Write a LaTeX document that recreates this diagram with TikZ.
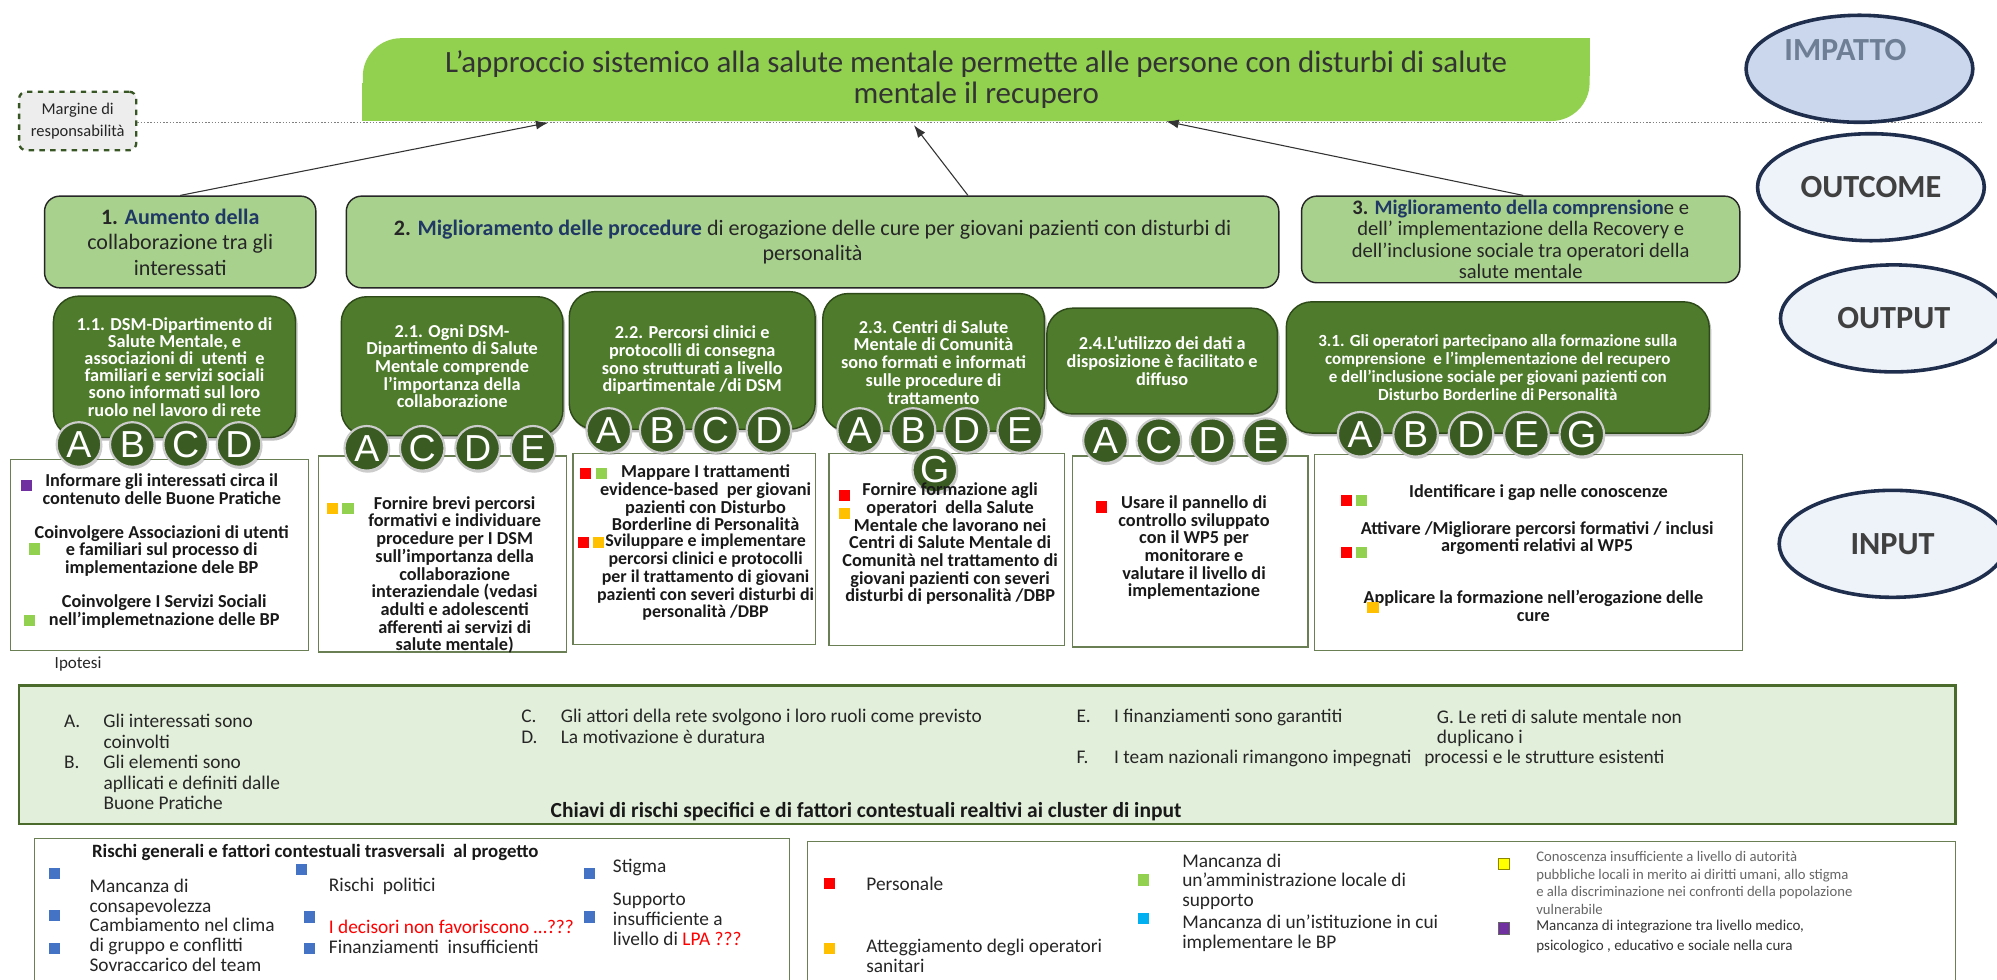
\documentclass[tikz,border=0pt]{standalone}
\usepackage{fontspec}
\setmainfont{Carlito}
\newfontfamily\badgefont{Liberation Sans}
\usetikzlibrary{shapes.geometric, arrows.meta, positioning, calc, shadows}

\definecolor{impgreen}{HTML}{92D050}
\definecolor{ocgreen}{HTML}{A9D18E}
\definecolor{opgreen}{HTML}{4F7B2C}
\definecolor{opedge}{HTML}{2E4A19}
\definecolor{badgegreen}{HTML}{3A5C22}
\definecolor{ocnavy}{HTML}{1F3864}
\definecolor{inedge}{HTML}{6B7F55}
\definecolor{hypfill}{HTML}{E2EFDA}
\definecolor{hypedge}{HTML}{4A6B2C}
\definecolor{elledge}{HTML}{1F2E4D}
\definecolor{impfill}{HTML}{CBD7EC}
\definecolor{impgray}{HTML}{6E7E94}
\definecolor{ellfill}{HTML}{EEF2F9}
\definecolor{sqred}{HTML}{FF0000}
\definecolor{sqorange}{HTML}{FFC000}
\definecolor{sqgreen}{HTML}{92D050}
\definecolor{sqcyan}{HTML}{00B0F0}
\definecolor{sqyellow}{HTML}{FFFF00}
\definecolor{sqpurple}{HTML}{7030A0}
\definecolor{sqblue}{HTML}{4472C4}
\definecolor{margfill}{HTML}{EDEDED}
\definecolor{margedge}{HTML}{375623}

\begin{document}
\begin{tikzpicture}[x=0.025cm, y=-0.025cm, node distance=0.13cm,
        impact/.style={fill=impgreen, rounded corners=0.75cm, minimum width=24.075cm, minimum height=1.625cm, align=center, text=black!80, font=\fontsize{17.3}{17}\selectfont},
        marg/.style={draw=margedge, dashed, line width=1.3pt, fill=margfill, rounded corners=4pt, minimum width=2.3cm, minimum height=1.15cm, align=center, text=black!85, font=\fontsize{9.2}{12}\selectfont},
        outcome/.style={draw=black!85, fill=ocgreen, rounded corners=0.3cm, line width=0.8pt, align=center, text=black!85, minimum height=1.8cm, font=\fontsize{12.3}{14.2}\selectfont},
        outbox/.style={draw=opedge, fill=opgreen, rounded corners=0.5cm, line width=0.8pt, align=center, text=white, font=\bfseries\fontsize{10.2}{9.9}\selectfont, drop shadow={opacity=0.5, shadow xshift=1.2pt, shadow yshift=-1.8pt}},
        badge/.style={circle, fill=badgegreen, draw=white!80!black, line width=1.2pt, text=white, minimum size=0.875cm, inner sep=0pt, font=\badgefont\fontsize{21}{21}\selectfont, drop shadow={opacity=0.4, shadow xshift=0.6pt, shadow yshift=-1.2pt}},
        inbox/.style={draw=inedge, fill=white, line width=0.7pt},
        intext/.style={align=center, inner sep=0pt, text=black!90, font=\bfseries\fontsize{10.2}{9.9}\selectfont},
        sq/.style={minimum size=0.22cm, inner sep=0pt},
        phase/.style={ellipse, draw=elledge, line width=2pt, fill=ellfill, minimum width=4.45cm, minimum height=2.1cm, text=black!75, font=\bfseries\fontsize{18}{18}\selectfont},
        hyp/.style={draw=hypedge, line width=1.5pt, fill=hypfill},
        hyptext/.style={inner sep=0pt, align=left, text=black!85, font=\fontsize{10.8}{11.4}\selectfont},
        riskbox/.style={draw=inedge, line width=0.7pt, fill=white},
        risktext/.style={inner sep=0pt, align=left, text=black!85, font=\fontsize{10.8}{11}\selectfont},
        risksmall/.style={inner sep=0pt, align=left, text=black!60, font=\fontsize{8.2}{9.9}\selectfont},
        arrow/.style={-{Latex[length=7pt, width=5pt]}, black!80, line width=0.6pt}
    ]
        \fill[white] (0,0) rectangle (1568,769);
        \useasboundingbox (0,0) rectangle (1568,769);

        \node[impact] (imp) at (766.5, 62.5) {L’approccio sistemico alla salute mentale permette alle persone con disturbi di salute\\mentale il recupero};
        \fill[impgreen] (imp.north east) rectangle ++(-30,30);
        \fill[impgreen] (imp.south west) rectangle ++(30,-30);

        \node[marg] (marg) at (61, 95) {Margine di\\responsabilità};
        \coordinate (lineend) at (1556, 96);
        \draw[gray, densely dotted, line width=0.8pt] (marg.east |- lineend) -- (lineend);

        \node[phase, fill=impfill] (impatto) at (1460, 54) {};
        \node[font=\bfseries\fontsize{18}{18}\selectfont, text=impgray] (impattolbl) at (1449, 39) {IMPATTO};
        \node[phase] (outcome) at (1469, 147) {OUTCOME};
        \node[phase] (output) at (1487, 250) {OUTPUT};
        \node[phase] (input) at (1486, 427) {INPUT};

        \node[outcome, minimum width=5.325cm] (o1) at (141.5, 190) {\textbf{1. \textcolor{ocnavy}{Aumento della}}\\collaborazione tra gli\\interessati};
        \node[outcome, minimum width=18.3cm] (o2) at (638, 190) {\textbf{2. \textcolor{ocnavy}{Miglioramento delle procedure}} di erogazione delle cure per giovani pazienti con disturbi di\\personalità};
        \node[outcome, minimum width=8.6cm, minimum height=1.7cm, inner sep=2pt, font=\fontsize{11.5}{11.9}\selectfont] (o3) at (1194, 188) {\textbf{3. \textcolor{ocnavy}{Miglioramento della comprension}}e e\\dell’ implementazione della Recovery e\\dell’inclusione sociale tra operatori della\\salute mentale};

        \draw[arrow] (o1.north) -- ($(imp.south west)+(146,1)$);
        \draw[arrow] ($(o2.north)+(122,0)$) -- ($(imp.south west)+(433,3)$);
        \draw[arrow] ($(o3.north)+(2,0)$) -- ($(imp.south west)+(631,0)$);

        \node[inbox, minimum width=5.85cm, minimum height=3.75cm] (i1) at (125, 436) {};
        \node[inbox, minimum width=4.875cm, minimum height=3.85cm] (i2) at (347.5, 435) {};
        \node[inbox, minimum width=4.75cm, minimum height=3.75cm] (i3) at (545, 431) {};
        \node[inbox, minimum width=4.625cm, minimum height=3.775cm] (i4) at (743.5, 431.5) {};
        \node[inbox, minimum width=4.625cm, minimum height=3.75cm] (i5) at (934.5, 433) {};
        \node[inbox, minimum width=8.4cm, minimum height=3.85cm] (i6) at (1200, 434) {};

        \node[outbox, minimum width=4.75cm, minimum height=2.775cm, font=\bfseries\fontsize{10.2}{9.6}\selectfont] (p11) at (137, 288) {1.1. DSM-Dipartimento di\\Salute Mentale, e\\associazioni di\ \ utenti\ \ e\\familiari e servizi sociali\\sono informati sul loro\\ruolo nel lavoro di rete};
        \node[outbox, minimum width=4.35cm, minimum height=2.725cm] (p21) at (355, 287.5) {2.1. Ogni DSM-\\Dipartimento di Salute\\Mentale comprende\\l’importanza della\\collaborazione};
        \node[outbox, minimum width=4.825cm, minimum height=2.7cm] (p22) at (543.5, 283) {2.2. Percorsi clinici e\\protocolli di consegna\\sono strutturati a livello\\dipartimentale /di DSM};
        \node[outbox, minimum width=4.35cm, minimum height=2.7cm] (p23) at (733, 284.5) {2.3. Centri di Salute\\Mentale di Comunità\\sono formati e informati\\sulle procedure di\\trattamento};
        \node[outbox, minimum width=4.525cm, minimum height=2.075cm] (p24) at (912.5, 283.5) {2.4.L’utilizzo dei dati a\\disposizione è facilitato e\\diffuso};
        \node[outbox, minimum width=8.3cm, minimum height=2.575cm, font=\bfseries\fontsize{9.5}{10}\selectfont] (p31) at (1176, 288.5) {3.1. Gli operatori partecipano alla formazione sulla\\comprensione\ \ e l’implementazione del recupero\\e dell’inclusione sociale per giovani pazienti con\\Disturbo Borderline di Personalità};

        \node[badge] (b11a) at (62, 349) {A};
        \node[badge, right=of b11a] (b11b) {B};
        \node[badge, right=of b11b] (b11c) {C};
        \node[badge, right=of b11c] (b11d) {D};
        \node[badge] (b21a) at (288, 352) {A};
        \node[badge, right=0.17cm of b21a] (b21c) {C};
        \node[badge, right=0.17cm of b21c] (b21d) {D};
        \node[badge, right=0.17cm of b21d] (b21e) {E};
        \node[badge] (b22a) at (478, 338) {A};
        \node[badge, right=of b22a] (b22b) {B};
        \node[badge, right=of b22b] (b22c) {C};
        \node[badge, right=of b22c] (b22d) {D};
        \node[badge] (b23a) at (675, 338) {A};
        \node[badge, right=of b23a] (b23b) {B};
        \node[badge, right=of b23b] (b23d) {D};
        \node[badge, right=of b23d] (b23e) {E};
        \node[badge] (b23g) at (734, 369) {G};
        \node[badge] (b24a) at (868, 346) {A};
        \node[badge, right=of b24a] (b24c) {C};
        \node[badge, right=of b24c] (b24d) {D};
        \node[badge, right=of b24d] (b24e) {E};
        \node[badge] (b31a) at (1068, 341) {A};
        \node[badge, right=0.17cm of b31a] (b31b) {B};
        \node[badge, right=0.17cm of b31b] (b31d) {D};
        \node[badge, right=0.17cm of b31d] (b31e) {E};
        \node[badge, right=0.17cm of b31e] (b31g) {G};

        \node[sq, fill=sqpurple] (s11) at (21, 381) {};
        \node[intext] (t11) at (127, 384) {Informare gli interessati circa il\\contenuto delle Buone Pratiche};
        \node[sq, fill=sqgreen] (s12) at (27, 431) {};
        \node[intext] (t12) at (127, 432.5) {Coinvolgere Associazioni di utenti\\e familiari sul processo di\\implementazione dele BP};
        \node[sq, fill=sqgreen] (s13) at (23, 487) {};
        \node[intext] (t13) at (129, 480) {Coinvolgere I Servizi Sociali\\nell’implemetnazione delle BP};

        \node[sq, fill=sqorange] (s21) at (261, 399) {};
        \node[sq, fill=sqgreen, right=0.07cm of s21] (s22) {};
        \node[intext] (t21) at (357, 451.5) {Fornire brevi percorsi\\formativi e individuare\\procedure per I DSM\\sull’importanza della\\collaborazione\\interaziendale (vedasi\\adulti e adolescenti\\afferenti ai servizi di\\salute mentale)};

        \node[sq, fill=sqred] (s31) at (460, 372) {};
        \node[sq, fill=sqgreen, right=0.07cm of s31] (s32) {};
        \node[intext] (t31) at (554, 391) {Mappare I trattamenti\\evidence-based\ \ per giovani\\pazienti con Disturbo\\Borderline di Personalità};
        \node[sq, fill=sqred] (s33) at (458, 426) {};
        \node[sq, fill=sqorange, right=0.07cm of s33] (s34) {};
        \node[intext, font=\bfseries\fontsize{10}{9.9}\selectfont] (t32) at (554, 453.5) {Sviluppare e implementare\\percorsi clinici e protocolli\\per il trattamento di giovani\\pazienti con severi disturbi di\\personalità /DBP};

        \node[sq, fill=sqred] (s41) at (663, 389) {};
        \node[sq, fill=sqorange] (s42) at (663, 403) {};
        \node[intext] (t41) at (746, 427) {Fornire formazione agli\\operatori\ \ della Salute\\Mentale che lavorano nei\\Centri di Salute Mentale di\\Comunità nel trattamento di\\giovani pazienti con severi\\disturbi di personalità /DBP};

        \node[sq, fill=sqred] (s51) at (865, 398) {};
        \node[intext] (t51) at (937.5, 430) {Usare il pannello di\\controllo sviluppato\\con il WP5 per\\monitorare e\\valutare il livello di\\implementazione};

        \node[sq, fill=sqred] (s61) at (1057, 393) {};
        \node[sq, fill=sqgreen, right=0.07cm of s61] (s62) {};
        \node[intext] (t61) at (1208, 387) {Identificare i gap nelle conoscenze};
        \node[intext] (t62) at (1207, 422.5) {Attivare /Migliorare percorsi formativi / inclusi\\argomenti relativi al WP5};
        \node[sq, fill=sqred] (s63) at (1057, 434) {};
        \node[sq, fill=sqgreen, right=0.07cm of s63] (s64) {};
        \node[intext] (t63) at (1204, 476) {Applicare la formazione nell'erogazione delle\\cure};
        \node[sq, fill=sqorange] (s65) at (1078, 477) {};

        \node[anchor=west, text=black!85, font=\fontsize{9.5}{11}\selectfont] (ipotesi) at (38, 521) {Ipotesi};
        \node[hyp, minimum width=38cm, minimum height=2.725cm] (hyp) at (775, 592.5) {};
        \node[hyptext, anchor=north west] (hab) at (50, 560) {\begin{tabular}{@{}l@{\hspace{13pt}}l@{}}A. & Gli interessati sono\\ & coinvolti\\B. & Gli elementi sono\\ & apllicati e definiti dalle\\ & Buone Pratiche\end{tabular}};
        \node[hyptext, anchor=north west] (hcd) at (409, 556) {\begin{tabular}{@{}l@{\hspace{13pt}}l@{}}C. & Gli attori della rete svolgono i loro ruoli come previsto\\D. & La motivazione è duratura\end{tabular}};
        \node[hyptext, anchor=north west] (hef) at (845, 556) {\begin{tabular}{@{}l@{\hspace{13pt}}l@{}}E. & I finanziamenti sono garantiti\\ & \\F. & I team nazionali rimangono impegnati\end{tabular}};
        \node[hyptext, anchor=north west] (hg) at (1128, 557) {G. Le reti di salute mentale non\\duplicano i};
        \node[hyptext, anchor=north west] (hg2) at (1118, 589) {processi e le strutture esistenti};
        \node[font=\bfseries\fontsize{12}{13}\selectfont, text=black!90] (hkey) at (680, 637) {Chiavi di rischi specifici e di fattori contestuali realtivi ai cluster di input};

        \node[riskbox, minimum width=14.825cm, minimum height=3.4cm, anchor=north] (rg) at (323.5, 658) {};
        \node[anchor=west, inner sep=0pt, text=black!90, font=\bfseries\fontsize{10.5}{11}\selectfont] (rgtitle) at (72, 669) {Rischi generali e fattori contestuali trasversali\ \ al progetto};
        \node[sq, fill=sqblue] (rg1) at (43, 686) {};
        \node[sq, fill=sqblue] (rg2) at (43, 719) {};
        \node[sq, fill=sqblue] (rg3) at (43, 745) {};
        \node[risktext, anchor=north west] (rga) at (70, 690) {Mancanza di\\consapevolezza\\Cambiamento nel clima\\di gruppo e conflitti\\Sovraccarico del team};
        \node[sq, fill=sqblue] (rg4) at (237, 683) {};
        \node[sq, fill=sqblue] (rg5) at (243, 720) {};
        \node[sq, fill=sqblue] (rg6) at (243, 745) {};
        \node[risktext, anchor=west] (rgb) at (258, 696) {Rischi\ \ politici};
        \node[risktext, anchor=north west] (rgc) at (258, 722) {\textcolor{sqred}{I decisori non favoriscono …???}\\Finanziamenti\ \ insufficienti};
        \node[sq, fill=sqblue] (rg7) at (463, 686) {};
        \node[sq, fill=sqblue] (rg8) at (463, 720) {};
        \node[risktext, anchor=west] (rgd) at (481, 681) {Stigma};
        \node[risktext, anchor=north west] (rge) at (481, 701) {Supporto\\insufficiente a\\livello di \textcolor{sqred}{LPA ???}};

        \node[riskbox, minimum width=22.525cm, minimum height=3.4cm, anchor=north] (rs) at (1084.5, 660) {};
        \node[sq, fill=sqred] (rs1) at (651, 694) {};
        \node[risktext, anchor=west] (rsa) at (680, 694) {Personale};
        \node[sq, fill=sqorange] (rs2) at (651, 745) {};
        \node[risktext, anchor=north west] (rsb) at (680, 737) {Atteggiamento degli operatori\\sanitari};
        \node[sq, fill=sqgreen] (rs3) at (898, 691) {};
        \node[risktext, anchor=north west] (rsc) at (928, 670) {Mancanza di\\un’amministrazione locale di\\supporto};
        \node[sq, fill=sqcyan] (rs4) at (898, 721) {};
        \node[risktext, anchor=north west] (rsd) at (928, 718) {Mancanza di un’istituzione in cui\\implementare le BP};
        \node[sq, fill=sqyellow, draw=olive] (rs5) at (1181, 678) {};
        \node[risksmall, anchor=north west] (rse) at (1206, 668) {Conoscenza insufficiente a livello di autorità\\pubbliche locali in merito ai diritti umani, allo stigma\\e alla discriminazione nei confronti della popolazione\\vulnerabile};
        \node[sq, fill=sqpurple, draw=black!60] (rs6) at (1181, 729) {};
        \node[risktext, anchor=north west, text=black!80, font=\fontsize{8.4}{11}\selectfont] (rsf) at (1206, 722) {Mancanza di integrazione tra livello medico,\\psicologico , educativo e sociale nella cura};
    \end{tikzpicture}
\end{document}
